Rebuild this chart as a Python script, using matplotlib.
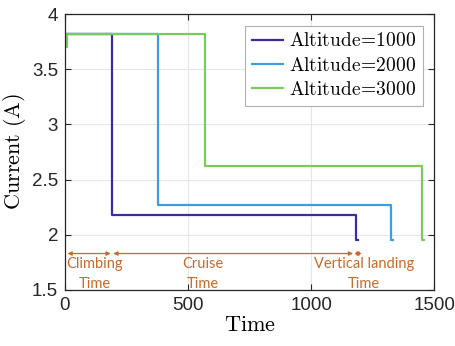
import matplotlib
matplotlib.use("Agg")
import matplotlib.pyplot as plt

plt.rcParams['mathtext.fontset'] = 'cm'
plt.rcParams['font.family'] = ['Liberation Sans', 'DejaVu Sans']

# Step profiles (time, current)
t1 = [0, 191, 191, 1183, 1183, 1192]
i1 = [3.82, 3.82, 2.18, 2.18, 1.95, 1.95]
t2 = [0, 378, 378, 1325, 1325, 1334]
i2 = [3.82, 3.82, 2.27, 2.27, 1.95, 1.95]
t3 = [0, 10, 10, 569, 569, 1451, 1451, 1458]
i3 = [3.70, 3.70, 3.82, 3.82, 2.62, 2.62, 1.95, 1.95]

labels = ['Altitude=1000', 'Altitude=2000', 'Altitude=3000']
colors = ['#3b2ca0', '#3a9de8', '#7acb5a']

fig = plt.figure(figsize=(4.56, 3.46), dpi=100)
ax = fig.add_axes([0.1425, 0.162, 0.81, 0.7975])

for t, i, lab, c in zip([t1, t2, t3], [i1, i2, i3], labels, colors):
    ax.plot(t, i, color=c, lw=1.6, label=r'$\mathrm{' + lab.replace('=', '\\!=\\!') + '}$')

ax.set_xlim(0, 1500)
ax.set_ylim(1.5, 4)
ax.set_xticks([0, 500, 1000, 1500])
ax.set_yticks([1.5, 2, 2.5, 3, 3.5, 4])
ax.set_yticklabels(['1.5', '2', '2.5', '3', '3.5', '4'])
ax.grid(True, color='#e6e6e6', lw=0.8)
ax.set_axisbelow(True)
ax.tick_params(direction='in', top=True, right=True, labelsize=13.5, length=4, colors='#262626', pad=5)
for s in ax.spines.values():
    s.set_color('#262626')
    s.set_linewidth(0.9)

ax.set_xlabel(r'$\mathrm{Time}$', fontsize=16, labelpad=1)
ax.set_ylabel(r'$\mathrm{Current\ (A)}$', fontsize=16, labelpad=3)

leg = ax.legend(loc='upper right', fontsize=14, handlelength=1.6, handletextpad=0.3,
                borderpad=0.35, labelspacing=0.32, fancybox=False, edgecolor='#b0b0b0',
                framealpha=1, borderaxespad=0.6)
leg.get_frame().set_linewidth(0.8)

# annotations
oc = '#c8692a'
ya = 1.83
arr = dict(arrowstyle='<|-|>', color=oc, lw=0.9, mutation_scale=6, shrinkA=0, shrinkB=0)
ax.annotate('', xy=(10, ya), xytext=(186, ya), arrowprops=arr)
ax.annotate('', xy=(196, ya), xytext=(1170, ya), arrowprops=arr)
ax.annotate('', xy=(1175, ya), xytext=(1205, ya), arrowprops=arr)
tf = dict(color=oc, fontsize=10.5, family=['Lato', 'DejaVu Sans'], ha='center', va='center', linespacing=1.6)
ax.text(120, 1.645, 'Climbing\nTime', **tf)
ax.text(561, 1.645, 'Cruise\nTime', **tf)
ax.text(1213, 1.645, 'Vertical landing\nTime', **tf)

fig.savefig('out.png', dpi=100)
